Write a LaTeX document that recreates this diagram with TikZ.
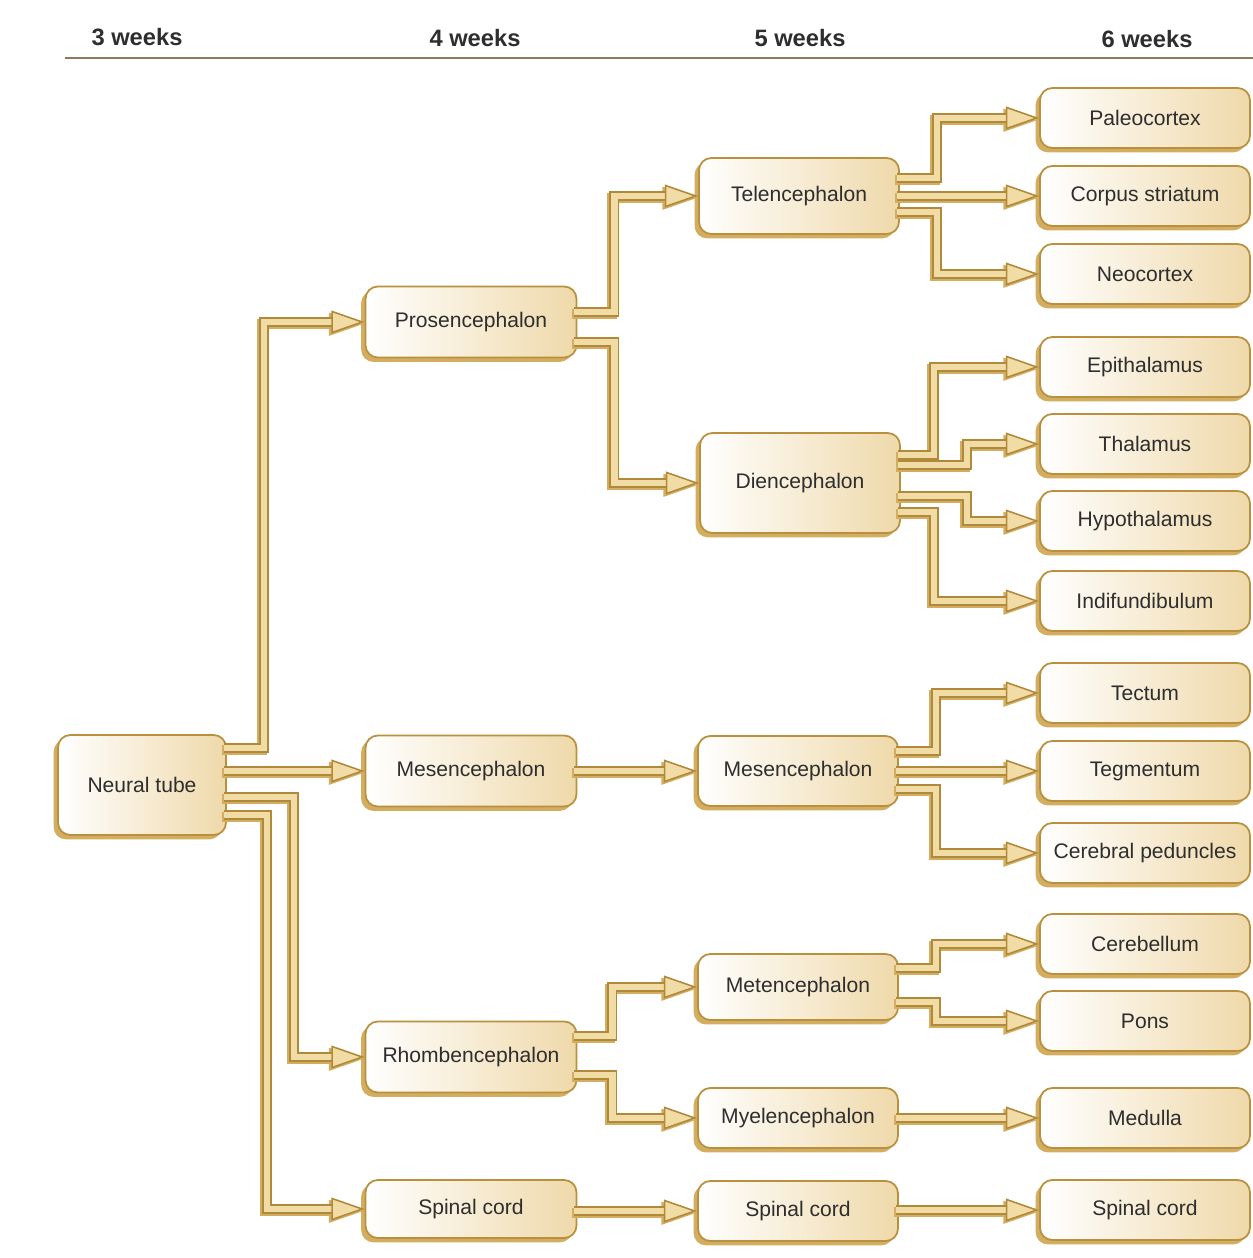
\documentclass[tikz,border=0pt]{standalone}
\usepackage{fontspec}
\setmainfont{Liberation Sans}
\usetikzlibrary{
    arrows.meta,  % arrow tips
    calc,  % offsets from anchors
    shadows,  % drop shadows behind the boxes
}
\definecolor{boxline}{HTML}{B8903E}
\definecolor{boxshade}{HTML}{EFD9AA}
\definecolor{boxshadow}{HTML}{D4AE60}
\definecolor{flowline}{HTML}{B08A3A}
\definecolor{flowfill}{HTML}{F2DCA6}
\definecolor{rulecol}{HTML}{8C7A5C}
\definecolor{textcol}{HTML}{2E2E2E}

\tikzset{
    stage/.style={draw=boxline, line width=1pt, rounded corners=7pt,
        left color=white, right color=boxshade, text=textcol,
        font=\fontsize{12}{14}\selectfont,
        drop shadow={shadow xshift=-2.5pt, shadow yshift=-2.5pt, fill=boxshadow, opacity=1}},
    tube/.style={stage, minimum width=3.36cm, minimum height=2cm},
    vesA/.style={stage, minimum width=4.22cm, minimum height=1.42cm},
    vesB/.style={stage, minimum width=4cm, minimum height=1.4cm},
    part/.style={stage, minimum width=4.2cm, minimum height=1.2cm},
    week/.style={font=\bfseries\fontsize{13.5}{16}\selectfont, text=textcol},
    flow/.style={draw=flowline, double=flowfill, line width=0.9pt, double distance=3.8pt,
        -{Triangle[length=19pt, width=13pt, fill=flowfill]},
        preaction={draw=boxshadow, double=boxshadow,
            -{Triangle[length=19pt, width=13pt, fill=boxshadow]},
            transform canvas={shift={(-1.3pt,-1.3pt)}}}},
}

\begin{document}
\begin{tikzpicture}[x=0.02cm, y=-0.02cm]
    \useasboundingbox (0,0) rectangle (1253,1258);

    % time line
    \node[week] (w3) at (137,37) {3 weeks};
    \node[week] (w4) at (475,38) {4 weeks};
    \node[week] (w5) at (800,38) {5 weeks};
    \node[week] (w6) at (1147,39) {6 weeks};
    \draw[rulecol, line width=1.5pt] (65,58) -- (1253,58);

    % 3 weeks
    \node[tube] (nt) at (142,785) {Neural tube};

    % 4 weeks
    \node[vesA] (pro) at (471,322) {Prosencephalon};
    \node[vesA] (mes) at (471,771) {Mesencephalon};
    \node[vesA] (rho) at (471,1057) {Rhombencephalon};
    \node[vesA, minimum height=1.16cm] (spi) at (471,1209) {Spinal cord};

    % 5 weeks
    \node[vesB, minimum height=1.52cm] (tel) at (799,196) {Telencephalon};
    \node[vesB, minimum height=2cm] (die) at (800,483) {Diencephalon};
    \node[vesB] (mesb) at (798,771) {Mesencephalon};
    \node[vesB, minimum height=1.32cm] (met) at (798,987) {Metencephalon};
    \node[vesB, minimum height=1.2cm] (mye) at (798,1118) {Myelencephalon};
    \node[vesB, minimum height=1.2cm] (spib) at (798,1211) {Spinal cord};

    % 6 weeks
    \node[part] (pal) at (1145,118) {Paleocortex};
    \node[part] (cor) at (1145,196) {Corpus striatum};
    \node[part] (neo) at (1145,274) {Neocortex};
    \node[part] (epi) at (1145,367) {Epithalamus};
    \node[part] (tha) at (1145,444) {Thalamus};
    \node[part] (hyp) at (1145,521) {Hypothalamus};
    \node[part] (ind) at (1145,601) {Indifundibulum};
    \node[part] (tec) at (1145,693) {Tectum};
    \node[part] (teg) at (1145,771) {Tegmentum};
    \node[part] (ped) at (1145,853) {Cerebral peduncles};
    \node[part] (cbl) at (1145,944) {Cerebellum};
    \node[part] (pon) at (1145,1021) {Pons};
    \node[part] (med) at (1145,1118) {Medulla};
    \node[part] (spic) at (1145,1210) {Spinal cord};

    % neural tube
    \draw[flow] ($(nt.east)+(-3,-37)$) -- ++(40,0) |- (pro);
    \draw[flow] ($(mes.west -| nt.east)+(-3,0)$) -- (mes);
    \draw[flow] ($(nt.east)+(-3,12)$) -- ++(70,0) |- (rho);
    \draw[flow] ($(nt.east)+(-3,30)$) -- ++(43,0) |- (spi);

    % prosencephalon
    \draw[flow] ($(pro.east)+(-3,-10)$) -- ++(40,0) |- (tel);
    \draw[flow] ($(pro.east)+(-3,20)$) -- ++(40,0) |- (die);

    % telencephalon
    \draw[flow] ($(tel.east)+(-3,-18)$) -- ++(40,0) |- (pal);
    \draw[flow] ($(cor.west -| tel.east)+(-3,0)$) -- (cor);
    \draw[flow] ($(tel.east)+(-3,16)$) -- ++(40,0) |- (neo);

    % diencephalon
    \draw[flow] ($(die.east)+(-3,-28)$) -- ++(36,0) |- (epi);
    \draw[flow] ($(die.east)+(-3,-18)$) -- ++(69,0) |- (tha);
    \draw[flow] ($(die.east)+(-3,13)$) -- ++(69,0) |- (hyp);
    \draw[flow] ($(die.east)+(-3,29)$) -- ++(36,0) |- (ind);

    % mesencephalon
    \draw[flow] ($(mes.east)+(-3,0)$) -- (mesb);
    \draw[flow] ($(mesb.east)+(-3,-20)$) -- ++(40,0) |- (tec);
    \draw[flow] ($(teg.west -| mesb.east)+(-3,0)$) -- (teg);
    \draw[flow] ($(mesb.east)+(-3,18)$) -- ++(40,0) |- (ped);

    % rhombencephalon
    \draw[flow] ($(rho.east)+(-3,-21)$) -- ++(38,0) |- (met);
    \draw[flow] ($(rho.east)+(-3,18)$) -- ++(38,0) |- (mye);
    \draw[flow] ($(met.east)+(-3,-19)$) -- ++(40,0) |- (cbl);
    \draw[flow] ($(met.east)+(-3,15)$) -- ++(40,0) |- (pon);
    \draw[flow] ($(mye.east)+(-3,0)$) -- (med);

    % spinal cord
    \draw[flow] ($(spib.west -| spi.east)+(-3,0)$) -- (spib);
    \draw[flow] ($(spic.west -| spib.east)+(-3,0)$) -- (spic);
\end{tikzpicture}
\end{document}
